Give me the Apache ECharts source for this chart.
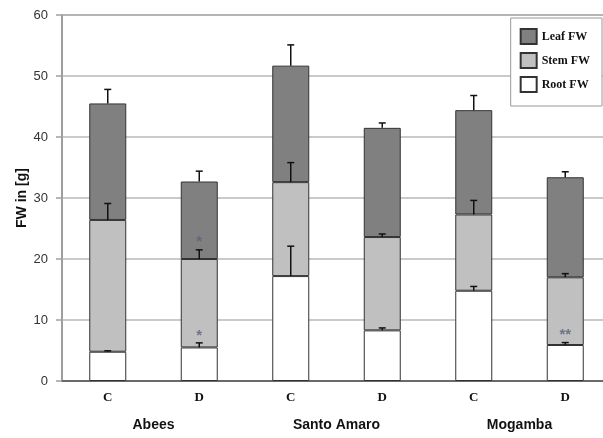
<!DOCTYPE html>
<html>
<head>
<meta charset="utf-8">
<script src="https://cdn.jsdelivr.net/npm/echarts@6/dist/echarts.min.js"></script>
<style>
html,body{margin:0;padding:0;background:#fff;overflow:hidden;}
#chart{width:611px;height:438px;}
</style>
</head>
<body>
<div id="chart"></div>
<script>
// ---- data ----
var categories = ['C', 'D', 'C', 'D', 'C', 'D'];
var groups = ['Abees', 'Santo Amaro', 'Mogamba'];
var yTicks = [0, 10, 20, 30, 40, 50, 60];
var rootFW = [4.8, 5.5, 17.2, 8.3, 14.8, 5.9];
var stemFW = [21.6, 14.5, 15.4, 15.3, 12.5, 11.1];
var leafFW = [19.1, 12.7, 19.1, 17.9, 17.1, 16.4];
var rootErr = [0.15, 0.75, 4.9, 0.4, 0.7, 0.4];
var stemErr = [2.7, 1.5, 3.2, 0.5, 2.3, 0.6];
var leafErr = [2.3, 1.7, 3.4, 0.8, 2.4, 0.9];
var starCats = [1, 1, 5];
var starValues = [22.8, 7.4, 7.6];
var starTexts = ['*', '*', '**'];

// ---- build ----
var errData = [];
for (var i = 0; i < categories.length; i++) {
  var r = rootFW[i], s = r + stemFW[i], l = s + leafFW[i];
  errData.push([i, r, r + rootErr[i]]);
  errData.push([i, s, s + stemErr[i]]);
  errData.push([i, l, l + leafErr[i]]);
}
var starData = starCats.map(function (c, k) { return { value: [c, starValues[k]], label: { formatter: starTexts[k] } }; });

var chart = echarts.init(document.getElementById('chart'), null, { renderer: 'canvas' });
var barBorder = { borderColor: '#333', borderWidth: 1 };
chart.setOption({
  animation: false,
  backgroundColor: '#fff',
  grid: { left: 62, top: 15, right: 0, bottom: 57, show: true, borderColor: '#555', borderWidth: 1.2, backgroundColor: 'transparent' },
  legend: {
    orient: 'vertical', right: 9, top: 18,
    data: ['Leaf FW', 'Stem FW', 'Root FW'],
    backgroundColor: '#fff', borderColor: '#999', borderWidth: 1,
    padding: [10, 12, 13, 9], itemGap: 7, itemWidth: 16, itemHeight: 15,
    icon: 'rect',
    textStyle: { fontFamily: 'Liberation Serif', fontWeight: 'bold', fontSize: 12, color: '#111' }
  },
  xAxis: [{
    type: 'category', data: categories, position: 'bottom',
    axisLine: { lineStyle: { color: '#6a6a6a', width: 2 } },
    axisTick: { show: false },
    axisLabel: { margin: 10, fontFamily: 'Liberation Serif', fontWeight: 'bold', fontSize: 13, color: '#111' }
  }, {
    type: 'category', data: groups, position: 'bottom',
    axisLine: { show: false }, axisTick: { show: false },
    axisLabel: { margin: 37, fontFamily: 'Liberation Sans', fontWeight: 'bold', fontSize: 14, color: '#111' }
  }],
  yAxis: {
    type: 'value', min: yTicks[0], max: yTicks[yTicks.length - 1], interval: 10,
    name: 'FW in [g]', nameLocation: 'middle', nameGap: 33, nameMoveOverlap: false,
    nameTextStyle: { fontFamily: 'Liberation Sans', fontWeight: 'bold', fontSize: 14, color: '#111' },
    axisLine: { show: true, lineStyle: { color: '#a0a0a0', width: 1.5 } },
    axisTick: { show: true, length: 6, lineStyle: { color: '#a0a0a0', width: 1.5 } },
    axisLabel: { margin: 14, fontFamily: 'Liberation Sans', fontSize: 13, color: '#333' },
    splitLine: { show: true, lineStyle: { color: '#b8b8b8', width: 1.5 } }
  },
  series: [
    { name: 'Root FW', type: 'bar', stack: 'fw', data: rootFW, barWidth: 37, itemStyle: Object.assign({ color: '#ffffff' }, barBorder) },
    { name: 'Stem FW', type: 'bar', stack: 'fw', data: stemFW, barWidth: 37, itemStyle: Object.assign({ color: '#c0c0c0' }, barBorder) },
    { name: 'Leaf FW', type: 'bar', stack: 'fw', data: leafFW, barWidth: 37, itemStyle: Object.assign({ color: '#808080' }, barBorder) },
    {
      type: 'custom', z: 10, data: errData,
      renderItem: function (params, api) {
        var p0 = api.coord([api.value(0), api.value(1)]);
        var p1 = api.coord([api.value(0), api.value(2)]);
        var hw = 3.5;
        var st = { stroke: '#111', lineWidth: 1.5 };
        return { type: 'group', children: [
          { type: 'line', shape: { x1: p0[0], y1: p0[1], x2: p1[0], y2: p1[1] }, style: st },
          { type: 'line', shape: { x1: p1[0] - hw, y1: p1[1], x2: p1[0] + hw, y2: p1[1] }, style: st }
        ] };
      }
    },
    {
      type: 'scatter', z: 11, symbolSize: 0, data: starData,
      label: { show: true, position: 'inside', fontFamily: 'Liberation Sans', fontSize: 15, fontWeight: 'bold', color: '#5a6078' }
    }
  ]
});
</script>
</body>
</html>
